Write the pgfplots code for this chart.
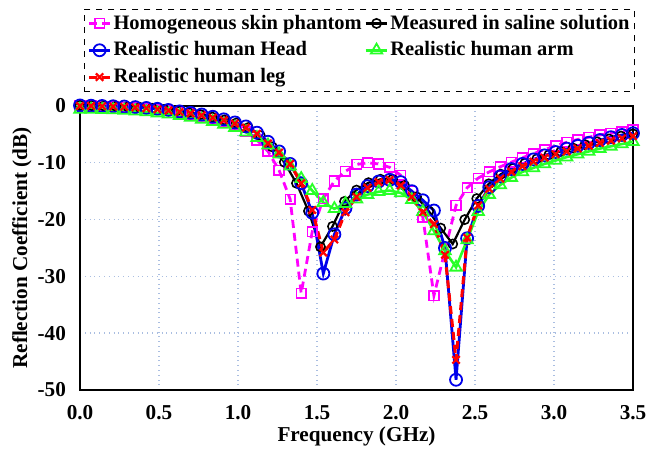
\documentclass[border=0pt]{standalone}
\usepackage{pgfplots}
\pgfplotsset{compat=1.18}
\usepackage{pgfplotstable}
\usepackage{fontspec}
\setmainfont{Liberation Serif}
\definecolor{pinkc}{RGB}{255,0,255}
\definecolor{bluec}{RGB}{0,0,235}
\definecolor{greenc}{RGB}{40,255,40}
\definecolor{redc}{RGB}{255,0,0}
\definecolor{gridc}{RGB}{170,190,225}

\pgfplotstableread{
x y
0.00 0.05
0.07 0.0
0.14 -0.05
0.21 -0.1
0.28 -0.2
0.35 -0.3
0.42 -0.45
0.49 -0.65
0.56 -0.85
0.63 -1.1
0.70 -1.4
0.77 -1.75
0.84 -2.2
0.91 -2.75
0.98 -3.4
1.05 -4.5
1.12 -6.0
1.19 -8.0
1.26 -11.3
1.33 -16.4
1.40 -33.0
1.47 -22.1
1.54 -16.3
1.61 -13.2
1.68 -11.5
1.75 -10.3
1.82 -10.0
1.89 -10.2
1.96 -10.8
2.03 -12.2
2.10 -15.0
2.17 -19.6
2.24 -33.4
2.38 -17.5
2.45 -14.4
2.52 -12.7
2.59 -11.6
2.66 -10.7
2.73 -9.9
2.80 -9.1
2.87 -8.4
2.94 -7.7
3.01 -7.0
3.08 -6.4
3.15 -5.9
3.22 -5.5
3.29 -5.1
3.36 -4.8
3.43 -4.5
3.50 -4.2
}\homog

\pgfplotstableread{
x y
0.000 0.1
0.076 0.05
0.152 0.0
0.228 -0.05
0.304 -0.15
0.380 -0.25
0.457 -0.4
0.533 -0.6
0.609 -0.85
0.685 -1.15
0.761 -1.5
0.837 -1.95
0.913 -2.45
0.989 -3.0
1.065 -3.8
1.141 -5.2
1.217 -7.2
1.293 -9.9
1.370 -13.6
1.446 -18.5
1.522 -24.8
1.598 -21.2
1.674 -16.8
1.750 -14.8
1.826 -13.5
1.902 -12.9
1.978 -12.9
2.054 -14.0
2.130 -16.0
2.207 -18.5
2.283 -21.5
2.359 -24.3
2.435 -20.0
2.511 -16.3
2.587 -13.7
2.663 -12.0
2.739 -11.0
2.815 -10.1
2.891 -9.3
2.967 -8.6
3.043 -8.0
3.120 -7.4
3.196 -6.8
3.272 -6.3
3.348 -5.8
3.424 -5.3
3.500 -4.9
}\meas

\pgfplotstableread{
x y
0.00 0.1
0.07 0.05
0.14 0.0
0.21 -0.05
0.28 -0.1
0.35 -0.2
0.42 -0.35
0.49 -0.5
0.56 -0.7
0.63 -0.95
0.70 -1.2
0.77 -1.5
0.84 -1.9
0.91 -2.35
0.98 -2.9
1.05 -3.6
1.12 -4.7
1.19 -6.3
1.26 -8.0
1.33 -10.2
1.40 -13.6
1.47 -18.8
1.54 -29.5
1.61 -22.6
1.68 -18.0
1.75 -15.6
1.82 -14.1
1.89 -13.3
1.96 -13.0
2.03 -13.4
2.10 -15.0
2.17 -16.6
2.24 -18.4
2.31 -25.0
2.38 -48.2
2.45 -23.3
2.52 -17.6
2.59 -14.3
2.66 -12.4
2.73 -11.1
2.80 -10.2
2.87 -9.4
2.94 -8.7
3.01 -8.1
3.08 -7.5
3.15 -7.0
3.22 -6.5
3.29 -6.0
3.36 -5.5
3.43 -5.1
3.50 -4.8
}\head

\pgfplotstableread{
x y
0.00 -0.6
0.07 -0.6
0.14 -0.65
0.21 -0.7
0.28 -0.8
0.35 -0.9
0.42 -1.05
0.49 -1.25
0.56 -1.45
0.63 -1.7
0.70 -2.0
0.77 -2.35
0.84 -2.75
0.91 -3.25
0.98 -3.8
1.05 -4.6
1.12 -5.6
1.19 -6.9
1.26 -8.5
1.33 -10.6
1.40 -12.8
1.47 -14.9
1.54 -17.0
1.61 -18.1
1.68 -17.2
1.75 -16.4
1.82 -15.6
1.89 -15.1
1.96 -14.9
2.03 -15.3
2.10 -16.5
2.17 -18.6
2.24 -22.0
2.31 -25.5
2.38 -28.4
2.45 -23.6
2.52 -18.6
2.59 -15.6
2.66 -13.9
2.73 -12.6
2.80 -11.6
2.87 -10.9
2.94 -10.2
3.01 -9.6
3.08 -9.0
3.15 -8.5
3.22 -8.0
3.29 -7.5
3.36 -7.1
3.43 -6.7
3.50 -6.3
}\arm

\pgfplotstableread{
x y
0.00 0.0
0.07 0.0
0.14 -0.05
0.21 -0.1
0.28 -0.15
0.35 -0.25
0.42 -0.4
0.49 -0.6
0.56 -0.8
0.63 -1.05
0.70 -1.3
0.77 -1.65
0.84 -2.05
0.91 -2.5
0.98 -3.1
1.05 -3.8
1.12 -4.9
1.19 -6.6
1.26 -8.2
1.33 -10.2
1.40 -13.6
1.47 -18.3
1.54 -25.8
1.61 -23.5
1.68 -18.7
1.75 -16.0
1.82 -14.4
1.89 -13.4
1.96 -13.0
2.03 -14.0
2.10 -16.0
2.17 -18.7
2.24 -20.8
2.31 -26.2
2.38 -44.7
2.45 -23.2
2.52 -17.5
2.59 -14.6
2.66 -12.8
2.73 -11.6
2.80 -10.6
2.87 -9.8
2.94 -9.1
3.01 -8.5
3.08 -8.0
3.15 -7.5
3.22 -7.0
3.29 -6.5
3.36 -6.1
3.43 -5.7
3.50 -5.3
}\leg

\begin{document}
\begin{tikzpicture}[font=\bfseries\fontsize{10.6}{12.5}\selectfont]
\begin{axis}[
  name=ax,
  scale only axis,
  width=276.5pt, height=142pt,
  xmin=0, xmax=3.5, ymin=-50, ymax=0,
  xtick={0,0.5,...,3.5},
  ytick={-50,-40,...,0},
  clip=false,
  axis line style={black, line width=0.8pt},
  major tick length=0pt,
  grid=major,
  major grid style={gridc, dotted, line width=0.7pt},
  /pgf/number format/assume math mode=true,
  xticklabel style={yshift=-4pt, /pgf/number format/fixed, /pgf/number format/fixed zerofill, /pgf/number format/precision=1},
  yticklabel style={xshift=-3.5pt},
  xlabel={Frequency (GHz)},
  ylabel={Reflection Coefficient (dB)},
  every axis x label/.style={at={(axis description cs:0.5,-0.165)}, anchor=center},
  every axis y label/.style={at={(axis description cs:-0.105,0.5)}, rotate=90, anchor=center},
  legend columns=2,
  legend cell align=left,
  legend style={at={(0.505,1)}, anchor=south, yshift=7pt, draw=black, dashed, line width=0.7pt,
    font=\bfseries\fontsize{10.25}{12}\selectfont,
    inner xsep=1.5pt, inner ysep=2pt, row sep=3.2pt,
    /tikz/every even column/.append style={column sep=0.5pt},
    nodes={solid, inner sep=0.8pt}},
  legend image code/.code={\draw[mark repeat=2,mark phase=2] plot coordinates {(0cm,0cm) (0.19cm,0cm) (0.38cm,0cm)};},
]
\addplot[pinkc, line width=1.4pt, dash pattern=on 4pt off 2.5pt, mark=square, mark size=2.4pt, mark options={solid, line width=0.8pt}] table[x=x,y=y] {\homog};
\addlegendentry{Homogeneous skin phantom}
\addplot[black, line width=1.1pt, mark=o, mark size=2.3pt, mark options={solid, line width=0.8pt}] table[x=x,y=y] {\meas};
\addlegendentry{Measured in saline solution}
\addplot[bluec, line width=1.4pt, mark=o, mark size=3pt, mark options={solid, line width=0.9pt}] table[x=x,y=y] {\head};
\addlegendentry{Realistic human Head}
\addplot[greenc, line width=1.3pt, mark=triangle, mark size=3.3pt, mark options={solid, line width=0.9pt}] table[x=x,y=y] {\arm};
\addlegendentry{Realistic human arm}
\addplot[redc, line width=1.5pt, dash pattern=on 4pt off 2.5pt, mark=x, mark size=2.6pt, mark options={solid, line width=1.1pt}] table[x=x,y=y] {\leg};
\addlegendentry{Realistic human leg}
\end{axis}
\pgfresetboundingbox
\path[use as bounding box] ([xshift=-40pt,yshift=-31pt]ax.south west) rectangle ([xshift=6.5pt,yshift=53pt]ax.north east);
\end{tikzpicture}
\end{document}
